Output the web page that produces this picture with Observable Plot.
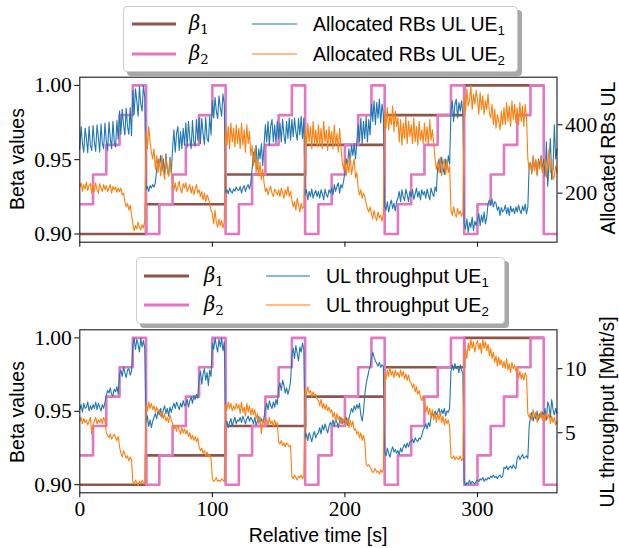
<!DOCTYPE html>
<html><head><meta charset="utf-8">
<script src="https://cdn.jsdelivr.net/npm/d3@7"></script>
<script src="https://cdn.jsdelivr.net/npm/@observablehq/plot@0.6"></script>
<style>
body{margin:0;background:#fff;}
#fig{position:relative;width:619px;height:548px;overflow:hidden;background:#fff;}
.panel{position:absolute;left:0;}
.lab{position:absolute;white-space:nowrap;font-family:"Liberation Sans",sans-serif;font-size:19.5px;color:#000;transform:translate(-50%,-50%);}
.rot{transform:translate(-50%,-50%) rotate(-90deg);}
.legend{position:absolute;border:1px solid #cfcfcf;border-radius:4px;background:#fff;box-shadow:4px 4px 0 #a8a8a8;z-index:5;}
.legend .txt{position:absolute;white-space:nowrap;font-family:"Liberation Sans",sans-serif;font-size:19.5px;line-height:24px;height:24px;}
.legend .beta{font-family:"DejaVu Serif",serif;font-style:italic;font-size:19.5px;}
.sub{font-size:0.68em;vertical-align:-0.3em;line-height:0;font-style:normal;}
.legend svg{position:absolute;}
</style>
</head><body>
<div id="fig">
  <div id="p1" class="panel" style="top:60px"></div>
  <div id="p2" class="panel" style="top:310px"></div>
</div>
<script>
// ---------- data ----------
const xTicks = [0, 100, 200, 300];
const betaTicks = [0.90, 0.95, 1.00];
const rbTicks = [200, 400];
const tpTicks = [5, 10];

// beta_1 (step, value holds until next time)
const beta1Times = [0, 50, 110, 170, 230, 290, 350];
const beta1 = [0.90, 0.92, 0.94, 0.96, 0.98, 1.00, 1.00];

// beta_2 every 10 s from 0 to 360
const beta2Times = d3.range(0, 361, 10);
const beta2 = [0.92,0.94,0.96,0.98,1.00,
  0.90,0.92,0.94,0.96,0.98,1.00,
  0.90,0.92,0.94,0.96,0.98,1.00,
  0.90,0.92,0.94,0.96,0.98,1.00,
  0.90,0.92,0.94,0.96,0.98,1.00,
  0.90,0.92,0.94,0.96,0.98,1.00,
  0.90,0.90];

// samples every second, 0..360 s
const time = d3.range(0, 361);

const rbUE1 = [330,395,345,320,390,360,318,395,340,325,
398,350,322,400,365,320,402,345,330,405,
352,325,408,360,330,410,350,335,412,358,
440,372,445,400,370,448,395,372,450,368,
500,430,505,470,425,512,460,440,515,480,
210,220,205,222,215,225,218,230,270,300,
280,310,265,300,255,315,270,250,305,260,
330,385,320,375,395,325,380,330,390,340,
405,335,410,360,330,412,350,338,415,355,
420,345,418,375,342,422,360,350,425,370,
470,420,480,440,418,485,450,425,490,460,
200,210,198,215,205,200,212,206,218,210,
208,220,200,215,222,205,218,225,212,230,
270,320,290,340,270,330,300,345,280,340,
400,350,410,340,395,415,350,400,345,410,
360,405,350,415,370,345,410,360,420,355,
415,365,420,380,355,418,370,425,360,420,
195,210,180,205,190,212,185,200,208,190,
205,185,210,198,180,212,195,188,210,200,
215,195,225,205,220,230,200,225,215,235,
260,300,280,330,290,340,310,345,300,350,
400,350,420,345,410,360,425,350,415,370,
460,410,470,400,465,420,475,405,460,430,
160,150,175,145,165,180,155,170,148,175,
185,205,175,210,190,178,212,195,175,205,
190,210,182,198,215,188,205,180,210,195,
205,185,212,195,180,215,200,190,218,205,
280,300,260,305,275,255,300,270,310,285,
440,470,410,460,475,420,465,440,470,430,
110,95,125,85,115,100,130,90,118,105,
120,140,105,135,115,145,110,130,170,180,
165,182,160,175,170,150,160,135,158,145,
150,165,140,158,135,162,145,155,140,160,
145,165,150,140,162,148,168,140,160,280,
290,260,305,270,295,255,300,280,310,265,
300,250,350,220,290,360,240,270,400,300,
330];

const rbUE2 = [218,230,205,225,212,232,208,222,228,200,
225,205,230,210,200,228,215,205,225,210,
222,205,215,225,200,220,210,218,202,215,
205,215,195,200,175,160,170,150,165,140,
110,90,105,95,115,100,92,108,98,118,
380,330,395,350,320,300,330,270,310,260,
300,250,310,265,240,305,270,250,300,260,
225,210,230,205,220,235,210,200,228,215,
230,205,215,225,200,220,195,212,225,200,
210,190,205,180,200,175,195,185,170,150,
140,110,150,115,100,125,105,120,98,115,
400,340,395,330,405,350,390,335,400,345,
390,330,405,340,385,320,400,345,380,310,
340,280,330,260,300,250,290,240,270,230,
205,215,195,210,220,200,190,212,205,195,
210,190,215,200,185,210,195,220,190,205,
180,160,175,150,185,165,145,170,155,160,
390,340,405,350,395,330,410,345,385,335,
400,340,390,330,410,350,385,325,395,345,
380,330,400,340,375,320,390,335,290,270,
300,250,290,260,310,255,280,300,245,260,
215,195,210,185,200,190,170,155,145,160,
140,125,150,130,120,145,128,135,118,140,
440,390,450,385,430,400,455,380,440,395,
420,350,415,340,405,360,425,345,410,365,
400,345,420,350,395,340,410,355,385,345,
405,350,395,340,415,355,385,345,300,270,
290,260,305,250,285,300,255,295,260,280,
150,135,160,140,130,155,138,148,132,145,
480,440,505,455,470,515,445,490,460,500,
475,430,495,445,485,430,470,445,490,435,
420,460,400,445,390,430,410,385,440,400,
450,400,465,410,455,395,470,415,460,405,
450,400,465,410,455,395,460,420,300,270,
290,255,310,265,300,250,295,270,305,260,
280,300,245,290,330,260,300,240,250,280,
260];

const tpUE1 = [6.8,7.2,6.6,7.3,6.9,7.0,7.4,6.7,7.1,6.8,
7.2,6.9,7.4,6.8,7.3,7.0,6.7,7.2,6.9,7.4,
7.9,8.3,8.1,8.5,8.0,7.9,8.4,8.2,8.6,8.0,
9.6,9.9,9.4,10.1,9.7,9.3,9.9,10.0,9.5,9.8,
11.8,12.4,11.5,12.3,11.9,11.3,12.4,11.7,12.2,11.6,
5.8,6.3,5.5,6.0,5.4,5.9,6.2,6.5,6.1,6.7,
6.4,6.9,6.2,6.8,7.1,6.5,6.9,6.3,7.0,6.6,
7.0,7.3,6.9,7.4,7.1,6.8,7.3,7.0,7.5,7.1,
7.2,7.6,7.0,7.5,7.8,7.3,7.9,7.6,8.0,7.7,
9.2,9.8,8.8,9.6,10.0,9.1,9.7,8.7,9.9,9.4,
12.0,11.5,12.4,11.8,11.3,12.3,11.7,12.4,11.4,12.1,
5.6,5.9,5.4,5.8,6.1,5.5,5.9,6.2,5.7,6.0,
5.9,6.2,5.8,6.3,6.0,5.7,6.1,6.3,5.9,6.2,
6.0,5.7,6.2,5.6,5.9,6.3,5.8,6.1,5.7,6.2,
6.9,7.3,6.8,7.5,7.1,6.9,7.4,7.0,7.6,7.2,
8.5,8.9,8.3,9.1,8.7,8.1,8.5,8.0,8.4,9.0,
11.0,11.6,10.8,11.8,11.2,10.6,11.7,11.3,12.0,11.5,
4.6,4.9,4.4,5.0,4.7,4.3,4.8,5.1,4.6,4.9,
5.0,5.4,4.9,5.6,5.2,5.7,5.3,5.0,5.5,5.8,
5.6,6.0,5.5,6.1,5.8,5.4,5.9,6.2,5.7,6.0,
5.8,6.2,5.6,6.1,6.5,6.9,6.6,7.1,6.8,7.2,
6.9,7.3,6.4,5.9,6.6,8.0,8.8,9.3,9.8,10.2,
10.8,11.3,10.9,10.6,10.4,10.2,10.5,10.1,10.3,10.2,
3.5,3.2,3.8,3.4,3.1,3.6,3.9,3.5,3.7,3.4,
3.6,3.3,3.8,3.5,3.9,4.1,3.8,4.2,3.9,4.3,
4.3,4.5,4.2,4.6,4.4,4.3,4.6,4.5,4.8,5.2,
5.4,5.7,5.3,5.8,5.5,6.2,6.5,6.3,6.7,6.4,
6.6,6.9,6.4,6.8,6.5,6.9,6.3,6.7,6.6,6.9,
9.8,10.3,9.9,10.4,10.0,10.2,9.7,10.3,9.9,9.6,
1.2,0.9,1.1,1.0,1.3,1.0,1.2,1.1,1.0,1.2,
1.3,1.2,1.4,1.3,1.5,1.2,1.4,1.3,1.5,1.4,
1.6,1.5,1.7,1.5,1.6,1.4,1.6,1.7,1.5,1.6,
2.3,2.2,2.4,2.1,2.3,2.4,2.2,2.5,2.3,2.2,
3.0,3.2,2.9,3.1,3.3,3.0,3.1,3.2,3.0,5.5,
6.2,6.6,5.9,6.4,6.1,6.7,6.0,6.5,6.2,6.6,
6.3,6.9,6.0,7.4,7.1,6.2,7.6,6.8,6.4,6.9,
6.5];

const tpUE2 = [5.9,6.2,5.7,6.1,5.8,6.0,5.6,5.9,6.2,4.9,
5.6,5.9,6.2,5.7,6.0,5.8,6.1,5.7,6.2,5.9,
5.0,4.8,4.6,4.9,4.5,4.7,4.9,4.6,4.4,4.7,
3.9,3.4,3.1,3.6,3.3,3.0,3.2,2.8,3.1,2.9,
1.2,1.0,1.3,1.1,0.9,1.2,1.0,1.3,1.1,1.0,
7.2,6.7,7.4,6.9,7.3,6.8,7.1,6.6,7.0,6.7,
6.8,6.3,6.6,6.1,6.5,5.9,6.2,5.8,6.4,6.0,
5.7,5.3,5.5,5.1,5.6,5.2,4.9,5.4,5.0,5.3,
4.9,5.2,4.7,5.0,4.5,4.8,4.4,4.7,4.3,4.6,
3.9,3.6,3.8,3.4,3.6,3.2,3.5,3.1,3.3,3.0,
1.4,1.2,1.3,1.5,1.2,1.3,1.2,1.4,1.3,1.2,
7.2,6.8,7.4,6.9,7.3,6.7,7.1,6.8,7.3,6.9,
7.2,6.5,7.4,6.6,7.0,6.3,7.3,6.6,7.1,6.4,
6.9,6.4,6.8,6.1,6.5,5.7,6.2,4.9,6.0,5.8,
5.8,6.1,5.6,6.2,5.7,5.9,5.5,6.0,5.6,5.8,
4.3,4.1,4.4,4.0,4.2,3.9,4.2,4.1,3.9,4.0,
1.6,1.4,1.7,1.5,1.3,1.6,1.5,1.7,1.4,1.6,
8.4,8.0,8.6,8.1,8.3,7.8,8.2,7.9,8.0,7.6,
7.5,7.1,7.6,6.9,7.3,6.8,7.2,6.7,7.0,6.6,
6.8,6.2,6.6,5.9,6.5,6.0,6.3,5.7,6.1,5.8,
6.2,5.6,6.1,5.4,6.0,5.5,5.9,5.2,5.3,4.9,
5.1,4.6,5.0,4.4,4.8,4.3,2.6,2.4,2.5,2.3,
2.1,1.9,2.0,2.2,1.9,2.0,1.8,2.1,1.9,2.2,
9.6,9.2,9.9,9.4,10.1,9.5,9.8,9.3,9.9,9.5,
9.7,9.3,9.9,9.4,9.8,9.2,9.6,9.1,9.5,9.0,
8.9,8.5,8.8,8.2,8.6,8.0,8.3,7.8,7.5,7.9,
7.2,6.6,7.1,6.4,6.9,6.2,6.8,6.0,6.5,5.8,
6.5,6.0,6.6,5.8,6.3,5.6,6.1,5.7,6.0,5.5,
3.1,3.0,3.2,2.9,3.1,3.0,2.9,3.2,2.8,3.0,
11.0,11.5,10.8,12.0,11.4,12.3,11.6,12.1,11.3,11.9,
12.2,11.5,12.0,11.2,12.3,11.6,12.1,11.4,11.9,11.0,
11.6,10.8,11.3,10.5,11.0,10.2,10.9,10.3,10.7,10.1,
10.6,10.0,10.8,9.9,10.4,9.7,10.5,10.0,10.3,9.8,
10.0,9.3,9.8,9.2,9.6,9.1,9.7,9.4,6.5,6.2,
6.5,6.0,6.8,6.2,6.6,5.8,6.4,6.1,6.7,6.0,
6.4,5.9,6.6,6.1,6.5,5.7,6.3,5.8,6.2,5.6,
5.9];

const colors = {b1: "#8c564b", b2: "#e377c2", ue1: "#1f77b4", ue2: "#ff7f0e"};

// ---------- drawing ----------
function makePanel(cfg) {
  const toB = d3.scaleLinear(cfg.refVals, cfg.refBetas); // right-axis value -> beta position
  const b1 = beta1Times.map((t, i) => ({t, v: beta1[i]}));
  const b2 = beta2Times.map((t, i) => ({t, v: beta2[i]}));
  const s1 = time.map((t, i) => ({t, v: toB(cfg.ue1[i])}));
  const s2 = time.map((t, i) => ({t, v: toB(cfg.ue2[i])}));
  return Plot.plot({
    width: 619, height: cfg.height,
    marginLeft: 79.3, marginRight: 62.5, marginTop: cfg.mt, marginBottom: cfg.mb,
    style: {fontFamily: "'Liberation Serif', serif", fontSize: "21.5px", color: "#000", background: "transparent", overflow: "visible"},
    x: {domain: [0, 360]},
    y: {domain: [0.8945, 1.0055]},
    marks: [
      Plot.line(b1, {x: "t", y: "v", curve: "step-after", stroke: colors.b1, strokeWidth: 2.6, strokeLinecap: "butt"}),
      Plot.line(b2, {x: "t", y: "v", curve: "step-after", stroke: colors.b2, strokeWidth: 2.6, strokeLinecap: "butt"}),
      Plot.line(s1, {x: "t", y: "v", stroke: colors.ue1, strokeWidth: 1.1}),
      Plot.line(s2, {x: "t", y: "v", stroke: colors.ue2, strokeWidth: 1.1}),
      Plot.axisX({ticks: xTicks, tickSize: 5, tickPadding: 3, tickFormat: cfg.showX ? (d => String(d)) : (() => ""), label: null}),
      Plot.axisY({ticks: betaTicks, tickSize: 5, tickPadding: 3, tickFormat: d3.format(".2f"), label: null}),
      Plot.axisY(cfg.rightTicks.map(toB), {anchor: "right", tickSize: 5, tickPadding: 3, tickFormat: b => String(Math.round(toB.invert(b))), label: null}),
      Plot.frame({stroke: "#1a1a1a", strokeWidth: 1.1})
    ]
  });
}

document.getElementById("p1").append(makePanel({
  height: 200, mt: 16.7, mb: 18.3, showX: false,
  ue1: rbUE1, ue2: rbUE2, refVals: [200, 400], refBetas: [0.9275, 0.9735], rightTicks: rbTicks
}));
document.getElementById("p2").append(makePanel({
  height: 230, mt: 19.3, mb: 47.7, showX: true,
  ue1: tpUE1, ue2: tpUE2, refVals: [5, 10], refBetas: [0.9354, 0.9790], rightTicks: tpTicks
}));

const fig = document.getElementById("fig");
function label(text, x, y, rot) {
  const d = document.createElement("div");
  d.className = "lab" + (rot ? " rot" : "");
  d.textContent = text;
  d.style.left = x + "px"; d.style.top = y + "px";
  fig.append(d);
}
label("Beta values", 17, 159, true);
label("Allocated RBs UL", 608, 158, true);
label("Beta values", 17, 412, true);
label("UL throughput [Mbit/s]", 607, 412, true);
label("Relative time [s]", 318, 535, false);

// legends
const legendTop = {box: [123, 6, 395, 66], rows: [17, 47], sw1: [8, 52], tx1: 65, sw2: [128, 173], tx2: 189,
  second: ["Allocated RBs UL UE", "Allocated RBs UL UE"]};
const legendBot = {box: [136, 257, 369, 67], rows: [18, 47], sw1: [7, 52], tx1: 67, sw2: [129, 173], tx2: 189,
  second: ["UL throughput UE", "UL throughput UE"]};

function swatch(parent, x0, x1, y, color, w) {
  const ns = "http://www.w3.org/2000/svg";
  const s = document.createElementNS(ns, "svg");
  s.setAttribute("width", x1 - x0 + 2); s.setAttribute("height", 8);
  s.style.left = (x0 - 1) + "px"; s.style.top = (y - 4) + "px";
  const l = document.createElementNS(ns, "line");
  l.setAttribute("x1", 1); l.setAttribute("x2", x1 - x0 + 1);
  l.setAttribute("y1", 4); l.setAttribute("y2", 4);
  l.setAttribute("stroke", color); l.setAttribute("stroke-width", w);
  s.append(l); parent.append(s);
}
function legend(cfg) {
  const d = document.createElement("div");
  d.className = "legend";
  const [x, y, w, h] = cfg.box;
  d.style.left = x + "px"; d.style.top = y + "px"; d.style.width = (w - 2) + "px"; d.style.height = (h - 2) + "px";
  const left = [[colors.b1, "1"], [colors.b2, "2"]];
  const right = [[colors.ue1, "1"], [colors.ue2, "2"]];
  cfg.rows.forEach((ry, i) => {
    swatch(d, cfg.sw1[0], cfg.sw1[1], ry, left[i][0], 2.8);
    const t1 = document.createElement("div");
    t1.className = "txt beta";
    t1.innerHTML = "β<span class='sub'>" + left[i][1] + "</span>";
    t1.style.left = cfg.tx1 + "px"; t1.style.top = (ry - 12) + "px";
    d.append(t1);
    swatch(d, cfg.sw2[0], cfg.sw2[1], ry, right[i][0], 1.2);
    const t2 = document.createElement("div");
    t2.className = "txt";
    t2.innerHTML = cfg.second[i] + "<span class='sub'>" + right[i][1] + "</span>";
    t2.style.left = cfg.tx2 + "px"; t2.style.top = (ry - 12) + "px";
    d.append(t2);
  });
  fig.append(d);
}
legend(legendTop);
legend(legendBot);
</script>
</body></html>
